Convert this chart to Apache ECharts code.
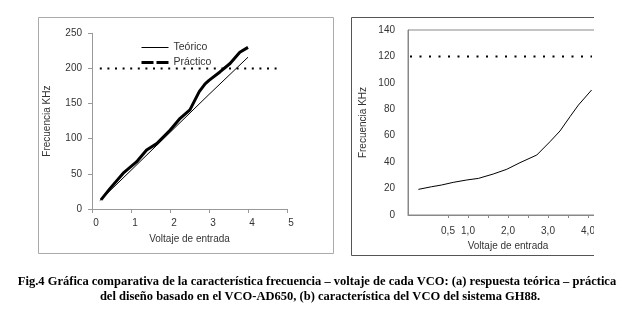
<!DOCTYPE html>
<html>
<head>
<meta charset="utf-8">
<script src="https://cdn.jsdelivr.net/npm/echarts@6/dist/echarts.min.js"></script>
<style>
  html, body { margin: 0; padding: 0; background: #fff; }
  #chart-container { width: 633px; height: 309px; }
</style>
</head>
<body>
<div id="chart-container"></div>
<script>
// (a) VCO-AD650: teórico vs práctico
const teoricoData = [[0.2, 12], [1, 55], [2, 109], [3, 163], [4, 216]];
const practicoData = [
    [0.23, 13], [0.46, 29], [0.8, 51], [1.14, 67], [1.4, 84], [1.66, 93],
    [2.0, 112], [2.26, 129], [2.51, 141], [2.75, 167], [2.9, 178], [3.0, 183],
    [3.28, 195], [3.54, 207], [3.79, 223], [4.0, 230]
];
const limiteA = [[0.2, 200], [4.8, 200]];
const xTicksA = [0, 1, 2, 3, 4, 5];

// (b) VCO del sistema GH88
const gh88Data = [
    [-0.24, 19.4], [0.09, 21.4], [0.34, 22.7], [0.63, 24.7], [0.97, 26.5],
    [1.26, 27.7], [1.63, 31.0], [1.97, 34.6], [2.3, 39.6], [2.72, 45.4],
    [3.05, 55.5], [3.3, 63.6], [3.55, 74.4], [3.76, 83.2], [4.09, 94.6]
];
const limiteB = [[-0.45, 120], [4.1, 120]];
const xLabelsB = [0.5, 1, 2, 3, 4];
const xTicksB = [0.5, 1, 1.5, 2, 2.5, 3, 3.5, 4, 4.5];

const captionLine1 = 'Fig.4 Gráfica comparativa de la característica frecuencia – voltaje de cada VCO: (a) respuesta teórica – práctica';
const captionLine2 = 'del diseño basado en el VCO-AD650, (b) característica del VCO del sistema GH88.';

const chart = echarts.init(document.getElementById('chart-container'));
const font = 'Liberation Sans, Arial, sans-serif';
const axisText = { color: '#333', fontSize: 10, fontFamily: font };
const captionFont = 'bold 12.5px "Liberation Serif", "Times New Roman", serif';

const option = {
    animation: false,
    legend: {
        data: [
            { name: 'Teórico', lineStyle: { width: 1 } },
            { name: 'Práctico', lineStyle: { type: [12, 3], width: 3 } }
        ],
        orient: 'vertical',
        left: 135,
        top: 37,
        itemWidth: 27,
        itemHeight: 10,
        itemGap: 4,
        itemStyle: { opacity: 0 },
        textStyle: { color: '#333', fontSize: 10.5, fontFamily: font }
    },
    grid: [
        { left: 92, top: 33.3, width: 195, height: 175.7 },
        { left: 408, top: 30, width: 200, height: 185, show: true, borderColor: '#888', borderWidth: 1 }
    ],
    xAxis: [
        {
            gridIndex: 0, type: 'value', min: 0, max: 5,
            name: 'Voltaje de entrada', nameLocation: 'middle', nameGap: 25,
            nameTextStyle: axisText,
            axisLine: { onZero: false, lineStyle: { color: '#999' } },
            axisTick: { length: 4, lineStyle: { color: '#999' }, customValues: xTicksA },
            axisLabel: Object.assign({ margin: 9, padding: [0, 0, 0, 8], customValues: xTicksA }, axisText),
            splitLine: { show: false }
        },
        {
            gridIndex: 1, type: 'value', min: -0.5, max: 4.5,
            name: 'Voltaje de entrada', nameLocation: 'middle', nameGap: 22,
            nameTextStyle: axisText,
            axisLine: { onZero: false, lineStyle: { color: '#888' } },
            axisTick: { length: 3, lineStyle: { color: '#888' }, customValues: xTicksB },
            axisLabel: Object.assign({
                margin: 11,
                customValues: xLabelsB,
                formatter: v => v.toFixed(1).replace('.', ',')
            }, axisText),
            splitLine: { show: false }
        }
    ],
    yAxis: [
        {
            gridIndex: 0, type: 'value', min: 0, max: 250, interval: 50,
            name: 'Frecuencia KHz', nameLocation: 'middle', nameGap: 40,
            nameTextStyle: axisText,
            axisLine: { show: true, onZero: false, lineStyle: { color: '#999' } },
            axisTick: { show: true, length: 4, lineStyle: { color: '#999' } },
            axisLabel: Object.assign({ margin: 10 }, axisText),
            splitLine: { show: false }
        },
        {
            gridIndex: 1, type: 'value', min: 0, max: 140, interval: 20,
            name: 'Frecuencia KHz', nameLocation: 'middle', nameGap: 40,
            nameTextStyle: axisText,
            axisLine: { show: true, onZero: false, lineStyle: { color: '#888' } },
            axisTick: { show: false },
            axisLabel: Object.assign({ margin: 13, padding: [7, 0, 0, 0] }, axisText),
            splitLine: { show: false }
        }
    ],
    graphic: [
        // marcos de cada gráfica
        { type: 'rect', shape: { x: 38.5, y: 17.5, width: 295, height: 236 },
          style: { fill: 'none', stroke: '#aaa', lineWidth: 1 }, z: 1 },
        { type: 'rect', shape: { x: 351.5, y: 17.5, width: 300, height: 238 },
          style: { fill: 'none', stroke: '#555', lineWidth: 1 }, z: 1 },
        // recorte de la imagen a la derecha
        { type: 'rect', shape: { x: 594, y: 0, width: 40, height: 262 },
          style: { fill: '#fff' }, z: 100 },
        // pie de figura
        { type: 'text', x: 317, y: 282, z: 100,
          style: { text: captionLine1, font: captionFont, fill: '#000', align: 'center', verticalAlign: 'middle' } },
        { type: 'text', x: 320, y: 297, z: 100,
          style: { text: captionLine2, font: captionFont, fill: '#000', align: 'center', verticalAlign: 'middle' } }
    ],
    series: [
        {
            name: 'Teórico', type: 'line', xAxisIndex: 0, yAxisIndex: 0,
            data: teoricoData, symbol: 'none',
            lineStyle: { color: '#000', width: 1 }, itemStyle: { color: '#000' }
        },
        {
            name: 'Práctico', type: 'line', xAxisIndex: 0, yAxisIndex: 0,
            data: practicoData, symbol: 'none',
            lineStyle: { color: '#000', width: 3 }, itemStyle: { color: '#000' }
        },
        {
            name: 'Límite a', type: 'line', xAxisIndex: 0, yAxisIndex: 0,
            data: limiteA, symbol: 'none', silent: true,
            lineStyle: { color: '#000', width: 2, type: [2, 5.6] }
        },
        {
            name: 'GH88', type: 'line', xAxisIndex: 1, yAxisIndex: 1,
            data: gh88Data, symbol: 'none',
            lineStyle: { color: '#000', width: 1 }
        },
        {
            name: 'Límite b', type: 'line', xAxisIndex: 1, yAxisIndex: 1,
            data: limiteB, symbol: 'none', silent: true,
            lineStyle: { color: '#000', width: 2, type: [2, 7.5] }
        }
    ]
};

chart.setOption(option);
</script>
</body>
</html>
